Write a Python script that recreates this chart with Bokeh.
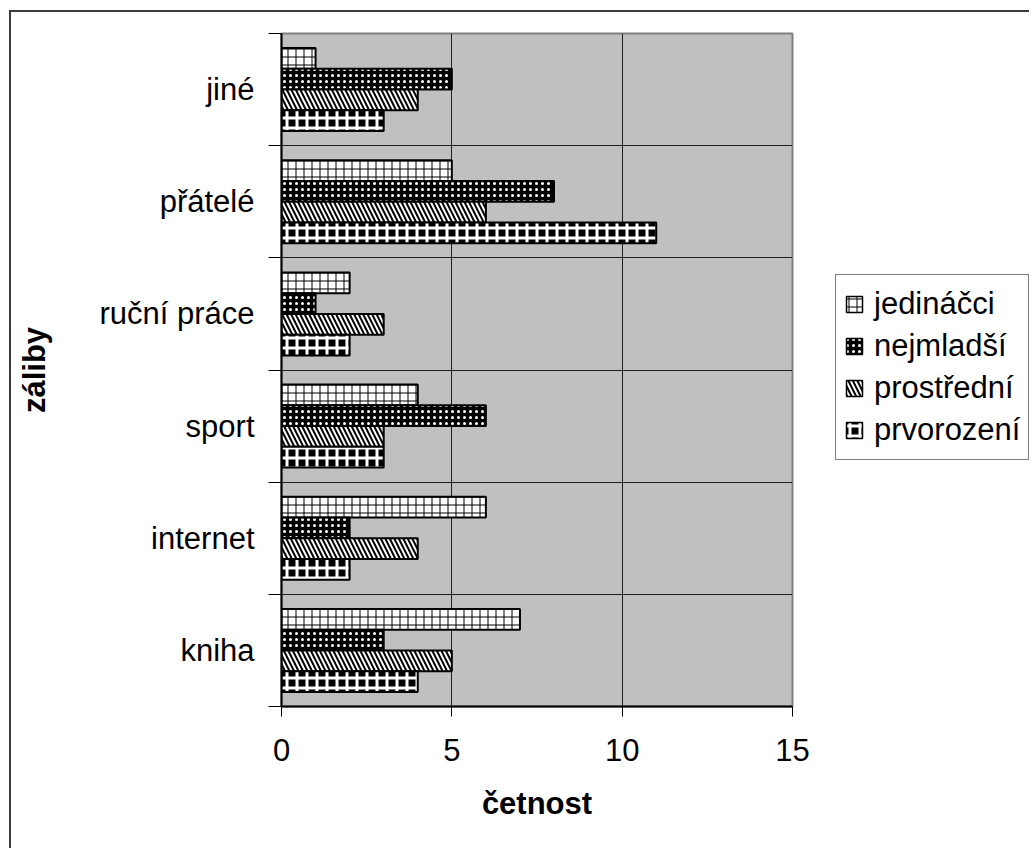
from bokeh.plotting import figure
from bokeh.layouts import row
from bokeh.models import Range1d, FixedTicker, ColumnDataSource, Legend, LegendItem
from bokeh.embed import file_html
from bokeh.resources import INLINE

# ---- data ----
categories = ["kniha", "internet", "sport", "ruční práce", "přátelé", "jiné"]
series_names = ["jedináčci", "nejmladší", "prostřední", "prvorození"]
jedinacci = [7, 6, 4, 2, 5, 1]
nejmladsi = [3, 2, 6, 1, 8, 5]
prostredni = [5, 4, 3, 3, 6, 4]
prvorozeni = [4, 2, 3, 2, 11, 3]
x_ticks = [0, 5, 10, 15]
x_label = "četnost"
y_label = "záliby"

FONT = "Liberation Sans"

styles = [
    dict(fill_color="white", hatch_pattern="cross", hatch_color="black", hatch_scale=8, hatch_weight=1),
    dict(fill_color="black", hatch_pattern="dot", hatch_color="white", hatch_scale=6, hatch_weight=1),
    dict(fill_color="white", hatch_pattern="left_diagonal_line", hatch_color="black", hatch_scale=9, hatch_weight=2),
    dict(fill_color="black", hatch_pattern="cross", hatch_color="white", hatch_scale=10, hatch_weight=3),
]

values = [jedinacci, nejmladsi, prostredni, prvorozeni]
bar_h = 0.185
offsets = [1.5 * bar_h, 0.5 * bar_h, -0.5 * bar_h, -1.5 * bar_h]

# ---- main chart ----
p = figure(width=823, height=836,
           x_range=Range1d(0, 15), y_range=Range1d(0, len(categories)),
           output_backend="svg", toolbar_location=None,
           min_border_left=270, min_border_right=42,
           min_border_top=21, min_border_bottom=142)
p.background_fill_color = "#C0C0C0"
p.border_fill_color = "white"
p.outline_line_color = "#808080"
p.outline_line_width = 2

# ---- legend panel ----
q = figure(width=195, height=836, x_range=Range1d(0, 1), y_range=Range1d(0, 1),
           output_backend="svg", toolbar_location=None,
           x_axis_type=None, y_axis_type=None,
           min_border_left=0, min_border_right=0, min_border_top=0, min_border_bottom=0)
q.outline_line_color = None
q.background_fill_color = "white"
q.border_fill_color = "white"
q.xgrid.visible = False
q.ygrid.visible = False

items = []
for name, vals, off, st in zip(series_names, values, offsets, styles):
    src = ColumnDataSource(dict(y=[i + 0.5 + off for i in range(len(categories))], v=vals))
    p.hbar(y="y", right="v", left=0, height=bar_h, source=src,
           line_color="black", line_width=2, **st)
    # hidden legend proxy carrying the same style
    proxy = q.hbar(y=[0.5], right=[0.5], left=0, height=0.1,
                   line_color="black", line_width=1.5, visible=False, **st)
    items.append(LegendItem(label=name, renderers=[proxy]))

# axes
p.xaxis.ticker = FixedTicker(ticks=x_ticks)
p.xaxis.major_tick_out = 10
p.xaxis.major_tick_in = 0
p.xaxis.minor_tick_line_color = None
p.xaxis.axis_line_color = "black"
p.xaxis.axis_line_width = 2
p.xaxis.major_tick_line_color = "black"
p.xaxis.major_label_text_font = FONT
p.xaxis.major_label_text_font_size = "31px"
p.xaxis.major_label_text_color = "black"
p.xaxis.major_label_standoff = 22
p.xaxis.axis_label = x_label
p.xaxis.axis_label_text_font = FONT
p.xaxis.axis_label_text_font_size = "31px"
p.xaxis.axis_label_text_font_style = "bold"
p.xaxis.axis_label_text_color = "black"
p.xaxis.axis_label_standoff = 22

centers = [i + 0.5 for i in range(len(categories))]
bounds = list(range(len(categories) + 1))
p.yaxis.ticker = FixedTicker(ticks=centers, minor_ticks=bounds)
p.yaxis.major_label_overrides = {c: lab for c, lab in zip(centers, categories)}
p.yaxis.major_tick_line_color = None
p.yaxis.major_tick_out = 13
p.yaxis.major_tick_in = 0
p.yaxis.minor_tick_line_color = "black"
p.yaxis.minor_tick_out = 13
p.yaxis.minor_tick_in = 0
p.yaxis.axis_line_color = "black"
p.yaxis.axis_line_width = 2
p.yaxis.major_label_text_font = FONT
p.yaxis.major_label_text_font_size = "31px"
p.yaxis.major_label_text_color = "black"
p.yaxis.major_label_standoff = 14
p.yaxis.axis_label = y_label
p.yaxis.axis_label_text_font = FONT
p.yaxis.axis_label_text_font_size = "31px"
p.yaxis.axis_label_text_font_style = "bold"
p.yaxis.axis_label_text_color = "black"
p.yaxis.axis_label_standoff = 44

p.xgrid.ticker = FixedTicker(ticks=[5, 10])
p.xgrid.grid_line_color = "#202020"
p.xgrid.grid_line_width = 1
p.ygrid.ticker = FixedTicker(ticks=bounds[1:-1])
p.ygrid.grid_line_color = "#202020"
p.ygrid.grid_line_width = 1

legend = Legend(items=items, location=(1, 246))
legend.label_text_font = FONT
legend.label_text_font_size = "31px"
legend.label_text_color = "black"
legend.glyph_width = 20
legend.glyph_height = 20
legend.label_height = 42
legend.spacing = 0
legend.padding = 8
legend.margin = 0
legend.label_standoff = 10
legend.border_line_color = "black"
legend.border_line_width = 1
legend.background_fill_color = "white"
legend.background_fill_alpha = 1
legend.inactive_fill_alpha = 0
q.add_layout(legend)

layout = row(p, q, spacing=0)
layout.styles = {"border-left": "2px solid #3c3c3c", "border-top": "2px solid #3c3c3c",
                 "margin-left": "9px", "margin-top": "10px"}

open("out.html", "w").write(file_html(layout, INLINE))
